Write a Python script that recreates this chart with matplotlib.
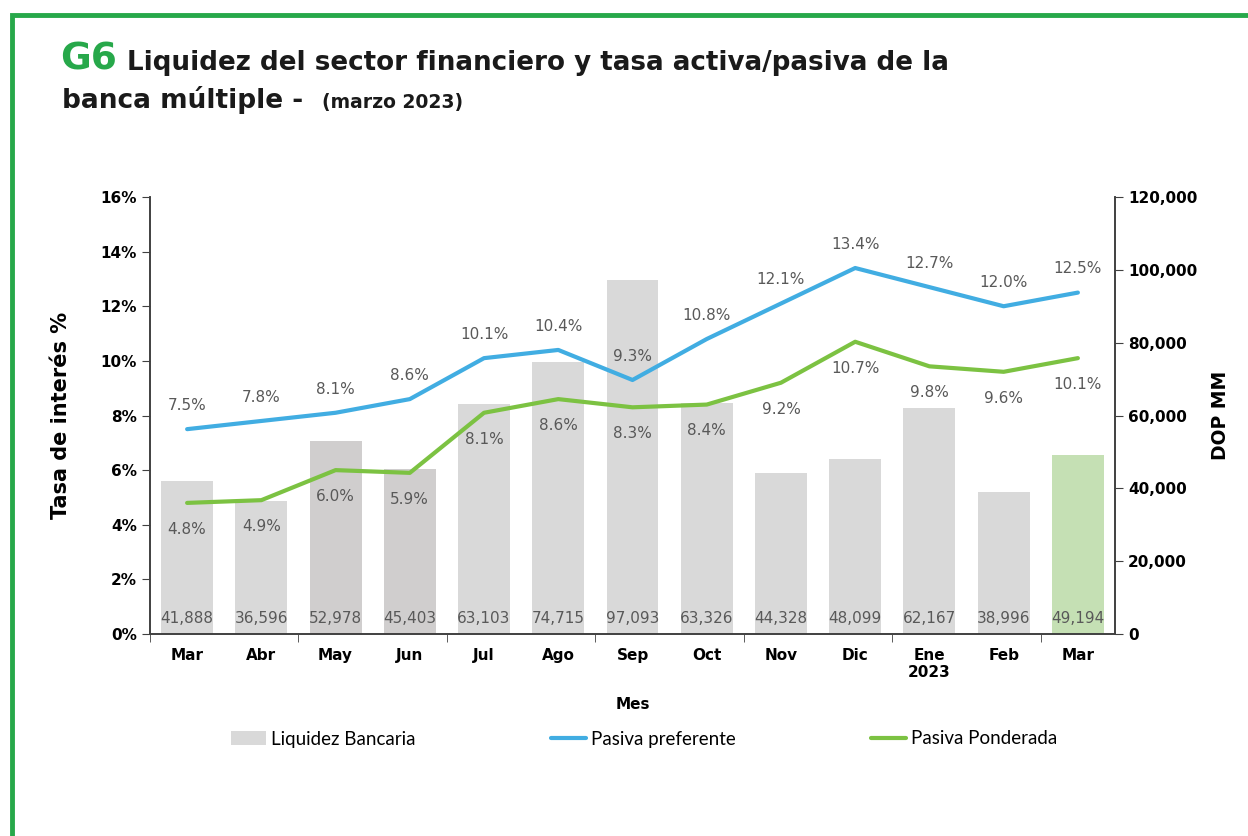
import matplotlib
matplotlib.use("Agg")
import matplotlib.pyplot as plt
from matplotlib.lines import Line2D
from matplotlib.patches import Patch, Rectangle

meses = ["Mar", "Abr", "May", "Jun", "Jul", "Ago", "Sep", "Oct", "Nov", "Dic", "Ene\n2023", "Feb", "Mar"]
liquidez = [41888, 36596, 52978, 45403, 63103, 74715, 97093, 63326, 44328, 48099, 62167, 38996, 49194]
pasiva_pref = [7.5, 7.8, 8.1, 8.6, 10.1, 10.4, 9.3, 10.8, 12.1, 13.4, 12.7, 12.0, 12.5]
pasiva_pond = [4.8, 4.9, 6.0, 5.9, 8.1, 8.6, 8.3, 8.4, 9.2, 10.7, 9.8, 9.6, 10.1]

gris = "#d9d9d9"
gris_osc = "#d0cece"
verde_bar = "#c5e0b4"
azul = "#41ade2"
verde = "#7cc242"
verde_marco = "#27a84a"

plt.rcParams["font.family"] = ["DejaVu Sans"]

fig = plt.figure(figsize=(12.48, 8.36), dpi=100)
W, H = 1248, 836

# marco verde
fig.add_artist(Rectangle((12 / W, -0.05), 1.1, (836 - 15) / H + 0.05, transform=fig.transFigure,
                         fill=False, edgecolor=verde_marco, linewidth=3.5))

# titulo
fig.text(60 / W, 1 - 70 / H, "G6", color=verde_marco, fontsize=27, fontweight="bold")
fig.text(127 / W, 1 - 70 / H, "Liquidez del sector financiero y tasa activa/pasiva de la",
         color="#1a1a1a", fontsize=18.8, fontweight="bold")
fig.text(62 / W, 1 - 108 / H, "banca múltiple -", color="#1a1a1a", fontsize=19, fontweight="bold")
fig.text(322 / W, 1 - 108 / H, "(marzo 2023)", color="#1a1a1a", fontsize=13.5, fontweight="bold")

ax = fig.add_axes([150 / W, 1 - 634 / H, (1115 - 150) / W, (634 - 197) / H])
ax2 = ax.twinx()
ax.set_zorder(ax2.get_zorder() + 1)
ax.patch.set_visible(False)

x = list(range(len(meses)))
colores = [gris] * len(meses)
colores[2] = gris_osc
colores[3] = gris_osc
colores[-1] = verde_bar
ax2.bar(x, liquidez, width=0.7, color=colores)
ax2.set_ylim(0, 120000)
ax2.set_yticks(range(0, 120001, 20000))
ax2.set_yticklabels([f"{v:,}" for v in range(0, 120001, 20000)], fontsize=11, fontweight="bold")
ax2.set_ylabel("DOP MM", fontsize=13.5, fontweight="bold", labelpad=10)
for xi, v in zip(x, liquidez):
    ax2.text(xi, 4300, f"{v:,}", ha="center", va="center", fontsize=11, color="#595959")

ax.plot(x, pasiva_pref, color=azul, linewidth=3, solid_capstyle="round")
ax.plot(x, pasiva_pond, color=verde, linewidth=3, solid_capstyle="round")
for xi, v in zip(x, pasiva_pref):
    ax.annotate(f"{v:.1f}%", (xi, v), xytext=(0, 17), textcoords="offset points",
                ha="center", va="center", fontsize=11, color="#595959")
for xi, v in zip(x, pasiva_pond):
    ax.annotate(f"{v:.1f}%", (xi, v), xytext=(0, -19), textcoords="offset points",
                ha="center", va="center", fontsize=11, color="#595959")

ax.set_xlim(-0.5, len(meses) - 0.5)
ax.set_ylim(0, 16)
ax.set_yticks(range(0, 17, 2))
ax.set_yticklabels([f"{v}%" for v in range(0, 17, 2)], fontsize=11, fontweight="bold")
ax.set_ylabel("Tasa de interés %", fontsize=15, fontweight="bold", labelpad=21)
ax.set_xticks(x)
ax.set_xticklabels(meses, fontsize=11, fontweight="bold", va="top")
ax.tick_params(axis="x", length=0, pad=10)
ax.set_xticks([i - 0.5 for i in range(0, 14, 2)], minor=True)
ax.tick_params(axis="x", which="minor", length=6, color="#404040")
ax.tick_params(axis="y", length=6, color="#404040")
ax2.tick_params(axis="y", length=6, color="#404040")
ax.set_xlabel("Mes", fontsize=11, fontweight="bold", labelpad=12)

for a in (ax, ax2):
    a.spines["top"].set_visible(False)
    for s in ("left", "right", "bottom"):
        a.spines[s].set_color("#404040")
        a.spines[s].set_linewidth(1.2)

handles = [Patch(facecolor=gris, edgecolor="none"),
           Line2D([0], [0], color=azul, linewidth=3, solid_capstyle="round"),
           Line2D([0], [0], color=verde, linewidth=3, solid_capstyle="round")]
fig.legend(handles, ["Liquidez Bancaria", "Pasiva preferente", "Pasiva Ponderada"],
           loc="center", bbox_to_anchor=(644 / W, 1 - 739 / H), ncol=3, frameon=False,
           prop={"family": "Lato", "size": 13.5}, columnspacing=7.2,
           handlelength=1.87, handletextpad=0.27)

fig.savefig("out.png", dpi=100)
